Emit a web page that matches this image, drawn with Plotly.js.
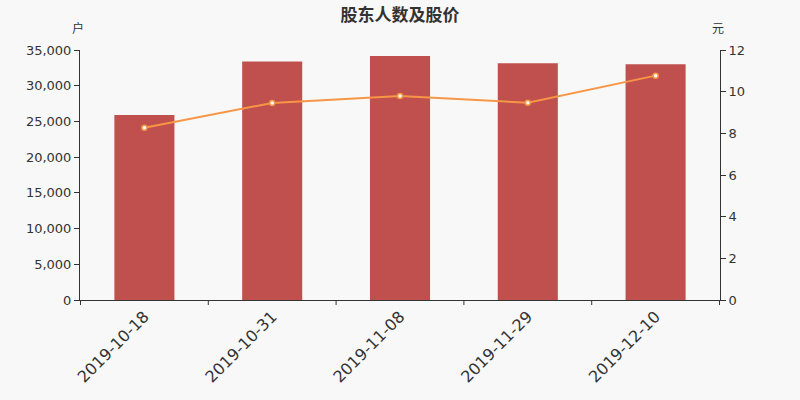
<!DOCTYPE html>
<html><head><meta charset="utf-8">
<script src="https://cdn.plot.ly/plotly-3.0.1.min.js"></script>
<style>body{margin:0;background:#f8f8f8}#c{width:800px;height:400px}</style>
</head><body><div id="c"></div>
<script>
const dates = ["2019-10-18","2019-10-31","2019-11-08","2019-11-29","2019-12-10"];
const holders = [25900, 33400, 34160, 33150, 33020];
const prices = [8.27, 9.46, 9.79, 9.47, 10.77];
const leftTicks = [0,5000,10000,15000,20000,25000,30000,35000];
const leftTickText = ["0","5,000","10,000","15,000","20,000","25,000","30,000","35,000"];
const rightTicks = [0,2,4,6,8,10,12];

const traces = [
 {type:"bar", x:dates, y:holders, marker:{color:"#c0504d"}, width:0.47, hoverinfo:"none"},
 {type:"scatter", mode:"lines+markers", x:dates, y:prices, yaxis:"y2",
  line:{color:"#f79646", width:2}, marker:{size:5, color:"#fff", line:{color:"#f79646", width:1.5}}, hoverinfo:"none"}
];
const layout = {
 width:800, height:400, showlegend:false,
 paper_bgcolor:"#f8f8f8", plot_bgcolor:"#f8f8f8",
 margin:{l:80, r:80, t:50, b:100},
 font:{family:"Noto Sans CJK SC, DejaVu Sans, sans-serif", color:"#333"},
 title:{text:"<b>股东人数及股价</b>", x:0.5, y:0.963, yanchor:"middle", font:{size:17, color:"#333", family:"Noto Sans CJK SC"}},
 xaxis:{type:"category", showgrid:false, showline:true, linecolor:"#333", linewidth:1,
   ticks:"", tickangle:-45, tickfont:{size:16, color:"#333", family:"DejaVu Sans"}, fixedrange:true},
 yaxis:{range:[0,35000], tickvals:leftTicks, ticktext:leftTickText, showgrid:false, zeroline:false,
   showline:true, linecolor:"#333", ticks:"outside", ticklen:5, tickcolor:"#333",
   tickfont:{size:13, color:"#333", family:"DejaVu Sans"}},
 yaxis2:{overlaying:"y", side:"right", range:[0,12], tickvals:rightTicks, showgrid:false, zeroline:false,
   showline:true, linecolor:"#333", ticks:"outside", ticklen:5, tickcolor:"#333",
   tickfont:{size:13, color:"#333", family:"DejaVu Sans"}},
 shapes: dates.concat([""]).map((d,i)=>({type:"line", xref:"x", yref:"paper", x0:i-0.5, x1:i-0.5, y0:0, y1:-0.02, line:{color:"#333", width:1}})),
 annotations:[
  {text:"户", xref:"paper", yref:"paper", x:-0.003, y:1.088, yanchor:"middle", showarrow:false, xanchor:"center", font:{size:12, color:"#333", family:"Noto Sans CJK SC"}},
  {text:"元", xref:"paper", yref:"paper", x:0.997, y:1.088, yanchor:"middle", showarrow:false, xanchor:"center", font:{size:12, color:"#333", family:"Noto Sans CJK SC"}}
 ]
};
Plotly.newPlot("c", traces, layout, {displayModeBar:false, staticPlot:true});
</script></body></html>
